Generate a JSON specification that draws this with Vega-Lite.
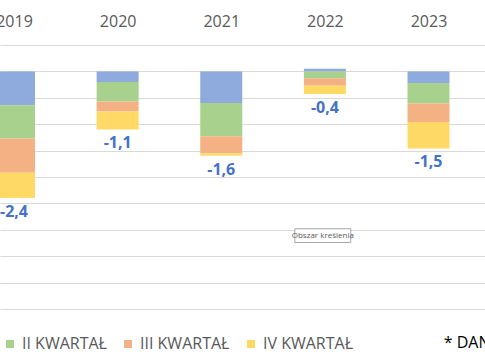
{
  "$schema": "https://vega.github.io/schema/vega-lite/v6.json",
  "width": 485,
  "height": 360,
  "autosize": "none",
  "padding": 0,
  "background": "white",
  "config": {"view": {"stroke": null}, "font": "Open Sans"},
  "datasets": {
    "q": [
      {"rok": 2019, "kw": "I KWARTAŁ", "n": 1, "v": -0.64},
      {"rok": 2019, "kw": "II KWARTAŁ", "n": 2, "v": -0.63},
      {"rok": 2019, "kw": "III KWARTAŁ", "n": 3, "v": -0.65},
      {"rok": 2019, "kw": "IV KWARTAŁ", "n": 4, "v": -0.48},
      {"rok": 2020, "kw": "I KWARTAŁ", "n": 1, "v": -0.2},
      {"rok": 2020, "kw": "II KWARTAŁ", "n": 2, "v": -0.37},
      {"rok": 2020, "kw": "III KWARTAŁ", "n": 3, "v": -0.19},
      {"rok": 2020, "kw": "IV KWARTAŁ", "n": 4, "v": -0.34},
      {"rok": 2021, "kw": "I KWARTAŁ", "n": 1, "v": -0.6},
      {"rok": 2021, "kw": "II KWARTAŁ", "n": 2, "v": -0.63},
      {"rok": 2021, "kw": "III KWARTAŁ", "n": 3, "v": -0.32},
      {"rok": 2021, "kw": "IV KWARTAŁ", "n": 4, "v": -0.05},
      {"rok": 2022, "kw": "I KWARTAŁ", "n": 1, "v": 0.05},
      {"rok": 2022, "kw": "II KWARTAŁ", "n": 2, "v": -0.13},
      {"rok": 2022, "kw": "III KWARTAŁ", "n": 3, "v": -0.14},
      {"rok": 2022, "kw": "IV KWARTAŁ", "n": 4, "v": -0.16},
      {"rok": 2023, "kw": "I KWARTAŁ", "n": 1, "v": -0.22},
      {"rok": 2023, "kw": "II KWARTAŁ", "n": 2, "v": -0.39},
      {"rok": 2023, "kw": "III KWARTAŁ", "n": 3, "v": -0.35},
      {"rok": 2023, "kw": "IV KWARTAŁ", "n": 4, "v": -0.5}
    ],
    "sum": [
      {"rok": 2019, "suma": -2.4, "etykieta": "-2,4"},
      {"rok": 2020, "suma": -1.1, "etykieta": "-1,1"},
      {"rok": 2021, "suma": -1.6, "etykieta": "-1,6"},
      {"rok": 2022, "suma": -0.43, "etykieta": "-0,4"},
      {"rok": 2023, "suma": -1.46, "etykieta": "-1,5"}
    ]
  },
  "layer": [
    {
      "data": {"name": "q"},
      "mark": {"type": "bar", "size": 42},
      "encoding": {
        "x": {
          "field": "rok", "type": "quantitative",
          "scale": {"domain": [2018.913, 2023.497], "nice": false, "zero": false},
          "axis": {
            "orient": "top", "values": [2019, 2020, 2021, 2022, 2023], "format": "d",
            "tickCount": 20,
            "title": null, "domain": false, "ticks": false, "tickSize": 0, "grid": false,
            "labelPadding": 0, "offset": -21, "labelBaseline": "middle",
            "labelFontSize": 16, "labelColor": "#595959", "labelFont": "Open Sans",
            "labelFlush": false, "labelOverlap": false
          }
        },
        "y": {
          "field": "v", "type": "quantitative", "stack": "zero",
          "scale": {"domain": [-5.466, 1.352], "nice": false, "zero": false},
          "axis": {
            "values": [0.5, 0, -0.5, -1, -1.5, -2, -2.5, -3, -3.5, -4, -4.5],
            "tickCount": 30,
            "title": null, "labels": false, "domain": false, "ticks": false,
            "grid": true, "gridColor": "#D9D9D9", "gridWidth": 1
          }
        },
        "order": {"field": "n", "type": "quantitative"},
        "color": {
          "field": "kw", "type": "nominal",
          "scale": {
            "domain": ["I KWARTAŁ", "II KWARTAŁ", "III KWARTAŁ", "IV KWARTAŁ"],
            "range": ["#8FAADC", "#A9D18E", "#F4B183", "#FFD966"]
          },
          "legend": {
            "orient": "none", "legendX": -112, "legendY": 336, "direction": "horizontal",
            "gridAlign": "none",
            "title": null, "symbolType": "square", "symbolSize": 64, "symbolStrokeWidth": 0,
            "labelFontSize": 16, "labelColor": "#595959", "labelFont": "Open Sans",
            "columnPadding": 13, "labelOffset": 4, "padding": 0
          }
        }
      }
    },
    {
      "data": {"name": "sum"},
      "mark": {"type": "text", "dy": 14, "fontSize": 16, "fontWeight": "bold", "color": "#4472C4", "font": "Open Sans"},
      "encoding": {
        "x": {"field": "rok", "type": "quantitative"},
        "y": {"field": "suma", "type": "quantitative"},
        "text": {"field": "etykieta"}
      }
    },
    {
      "data": {"values": [{}]},
      "mark": {"type": "rect", "fill": "white", "stroke": "#A6A6A6", "strokeWidth": 1},
      "encoding": {
        "x": {"datum": 2021.71, "type": "quantitative"},
        "x2": {"datum": 2022.25},
        "y": {"datum": -2.98, "type": "quantitative"},
        "y2": {"datum": -3.24}
      }
    },
    {
      "data": {"values": [{}]},
      "mark": {"type": "text", "fontSize": 8, "color": "#595959", "font": "Open Sans"},
      "encoding": {
        "x": {"datum": 2021.98, "type": "quantitative"},
        "y": {"datum": -3.11, "type": "quantitative"},
        "text": {"value": "Obszar kreślenia"}
      }
    },
    {
      "data": {"values": [{}]},
      "mark": {"type": "text", "fontSize": 16, "color": "#000000", "align": "left", "font": "Open Sans"},
      "encoding": {
        "x": {"datum": 2023.147, "type": "quantitative"},
        "y": {"datum": -5.144, "type": "quantitative"},
        "text": {"value": "* DANE SZACUNKOWE"}
      }
    }
  ]
}
